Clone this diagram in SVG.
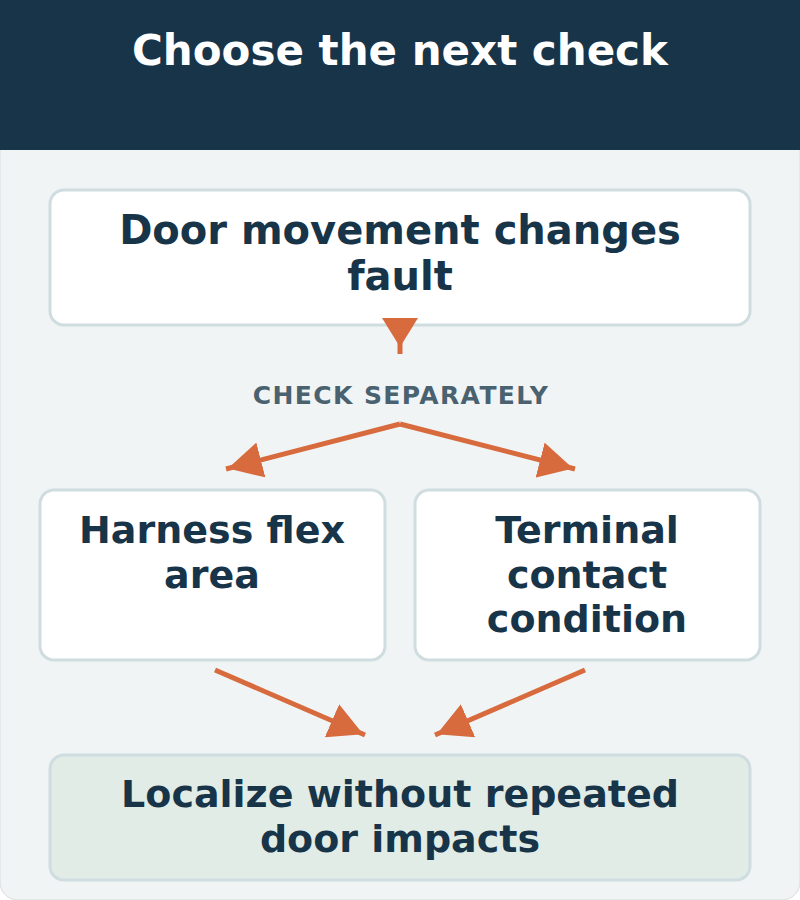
<svg xmlns="http://www.w3.org/2000/svg" width="800" height="900" viewBox="0 0 800 900">
<defs>
<style>
.node rect{fill:#ffffff;stroke:#d0dde0;stroke-width:3}
.node text{font-family:"DejaVu Sans",sans-serif;font-weight:bold;font-size:38px;fill:#173449;text-anchor:middle}
.conn line{stroke:#d86b3e;stroke-width:5}
</style>
<marker id="ah" viewBox="0 0 34 36" refX="36" refY="18" markerWidth="34" markerHeight="36" markerUnits="userSpaceOnUse" orient="auto">
<path d="M0,0 L34,18 L0,36 z" fill="#d86b3e"/>
</marker>
<marker id="ahv" viewBox="0 0 29 36" refX="36" refY="18" markerWidth="29" markerHeight="36" markerUnits="userSpaceOnUse" orient="auto">
<path d="M0,0 L29,18 L0,36 z" fill="#d86b3e"/>
</marker>
</defs>
<rect x="0" y="0" width="800" height="900" rx="18" fill="#f0f4f5" stroke="#d6dcdf" stroke-width="1"/>
<rect x="0" y="0" width="800" height="150" fill="#173449"/>
<text x="400" y="65" font-family="DejaVu Sans, sans-serif" font-weight="bold" font-size="42" fill="#ffffff" text-anchor="middle">Choose the next check</text>
<g id="n1" class="node">
<rect x="50" y="190" width="700" height="135" rx="14"/>
<text x="400" y="244" style="font-size:40px">Door movement changes</text>
<text x="400" y="290" style="font-size:40px">fault</text>
</g>
<text x="401" y="404" font-family="DejaVu Sans, sans-serif" font-weight="bold" font-size="25" fill="#4a6270" text-anchor="middle" letter-spacing="1.4">CHECK SEPARATELY</text>
<g id="n2" class="node">
<rect x="40" y="490" width="345" height="170" rx="14"/>
<text x="212" y="543">Harness flex</text>
<text x="212" y="588">area</text>
</g>
<g id="n3" class="node">
<rect x="415" y="490" width="345" height="170" rx="14"/>
<text x="587" y="543">Terminal</text>
<text x="587" y="588">contact</text>
<text x="587" y="632">condition</text>
</g>
<g id="n4" class="node">
<rect x="50" y="755" width="700" height="125" rx="14" style="fill:#e1ece6"/>
<text x="400" y="807">Localize without repeated</text>
<text x="400" y="852">door impacts</text>
</g>
<g id="connectors" class="conn">
<line x1="400" y1="318" x2="400" y2="354" marker-end="url(#ahv)"/>
<line x1="400" y1="424" x2="226" y2="469" marker-end="url(#ah)"/>
<line x1="400" y1="424" x2="575" y2="469" marker-end="url(#ah)"/>
<line x1="215" y1="670" x2="365" y2="735" marker-end="url(#ah)"/>
<line x1="585" y1="670" x2="435" y2="735" marker-end="url(#ah)"/>
</g>
</svg>
